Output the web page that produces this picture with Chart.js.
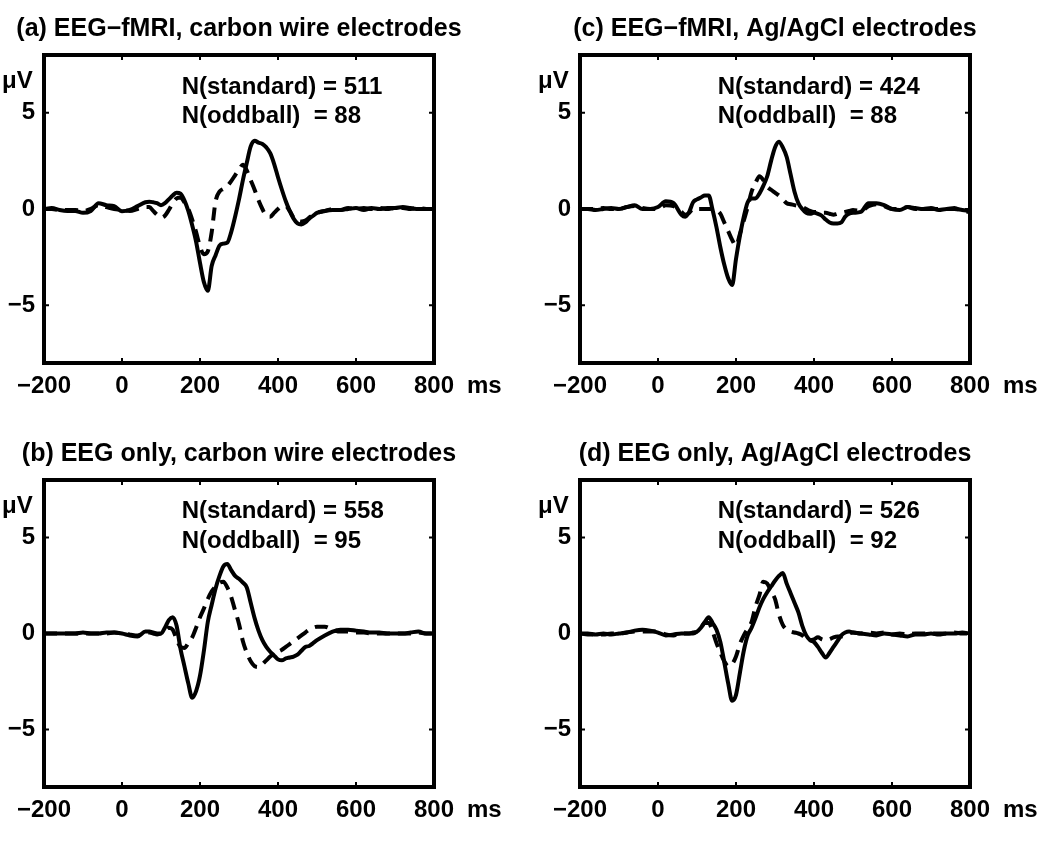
<!DOCTYPE html>
<html>
<head>
<meta charset="utf-8">
<script src="https://cdn.jsdelivr.net/npm/chart.js@4.4.1/dist/chart.umd.min.js"></script>
<style>
  body { margin: 0; background: #fff; }
  canvas { position: absolute; }
</style>
</head>
<body>
<canvas id="panelA" width="525" height="421" style="left:0;top:0"></canvas>
<canvas id="panelC" width="525" height="421" style="left:525px;top:0"></canvas>
<canvas id="panelB" width="525" height="421" style="left:0;top:421px"></canvas>
<canvas id="panelD" width="525" height="421" style="left:525px;top:421px"></canvas>
<script>
// time points (ms), finer around the ERP components
const times = [-200, -180, -160, -140, -120, -100, -80, -60, -40, -20, 0, 20, 40, 60,
    70, 80, 90, 100, 110, 120, 130, 140, 150, 160,
    170, 180, 190, 200, 210, 220, 230, 240, 250, 260,
    270, 280, 290, 300, 310, 320, 330, 340, 350, 360,
    370, 380, 390, 400, 410, 420, 430, 440, 450, 460,
    470, 480, 490, 500,
    520, 540, 560, 580, 600, 620, 640, 660, 680, 700, 720, 740, 760, 780, 800];

const xTicks = [-200, 0, 200, 400, 600, 800];
const yTicks = [-5, 0, 5];

// (a) EEG-fMRI, carbon wire
const aSolid = [0.0, 0.05, -0.05, -0.1, -0.1, -0.2, -0.1, 0.3, 0.2, 0.15, -0.12, -0.05, 0.15, 0.35,
    0.38, 0.35, 0.3, 0.2, 0.3, 0.5, 0.7, 0.85, 0.8, 0.45,
    -0.1, -0.85, -1.7, -2.8, -3.8, -4.25, -2.95, -2.4, -1.9, -1.8,
    -1.75, -1.2, -0.4, 0.5, 1.5, 2.4, 3.25, 3.55, 3.45, 3.38,
    3.2, 2.9, 2.35, 1.65, 1.0, 0.4, -0.1, -0.5, -0.75, -0.8,
    -0.7, -0.5, -0.35, -0.2,
    -0.1, -0.05, -0.05, 0.0, 0.05, -0.05, 0.05, 0.0, 0.05, 0.05, 0.1, 0.05, 0.0, 0.0, 0.0];
const aDashed = [0.0, 0.0, -0.05, -0.05, -0.05, -0.1, 0.0, 0.2, 0.1, 0.0, -0.05, -0.1, 0.0, 0.1,
    0.1, -0.1, -0.3, -0.45, -0.35, -0.05, 0.3, 0.55, 0.6, 0.35,
    0.0, -0.55, -1.2, -1.95, -2.35, -2.2, -1.2, 0.4, 0.9, 1.05,
    1.2, 1.45, 1.75, 2.05, 2.3, 2.0, 1.5, 1.0, 0.45, 0.0,
    -0.35, -0.4, -0.2, 0.0, 0.15, 0.15, -0.1, -0.45, -0.6, -0.65,
    -0.6, -0.45, -0.3, -0.2,
    -0.1, 0.0, -0.05, 0.05, 0.0, 0.05, 0.0, 0.05, 0.0, 0.05, 0.05, 0.0, 0.05, 0.0, 0.0];

// (c) EEG-fMRI, Ag/AgCl
const cSolid = [0.0, 0.0, -0.05, 0.0, 0.05, 0.0, 0.1, 0.2, 0.0, 0.0, 0.1, 0.4, 0.3, -0.3,
    -0.4, -0.15, 0.35, 0.5, 0.6, 0.7, 0.7, -0.05, -0.95, -2.0,
    -2.9, -3.6, -3.95, -2.6, -1.4, -0.4, 0.35, 0.55, 0.55, 0.8,
    1.2, 1.7, 2.5, 3.2, 3.5, 3.2, 2.7, 1.8, 0.9, 0.3,
    0.0, -0.2, -0.25, -0.2, -0.25, -0.35, -0.55, -0.7, -0.75, -0.75,
    -0.7, -0.4, -0.25, -0.2,
    -0.15, 0.3, 0.3, 0.2, 0.0, -0.05, 0.1, 0.05, 0.0, 0.05, -0.05, 0.0, 0.0, -0.05, -0.1];
const cDashed = [0.0, 0.0, 0.0, 0.05, 0.0, 0.0, 0.1, 0.15, 0.05, 0.0, 0.0, 0.2, 0.15, -0.15,
    -0.3, -0.2, 0.0, 0.0, 0.0, 0.0, 0.0, 0.0, -0.05, -0.25,
    -0.7, -1.15, -1.6, -1.9, -1.3, -0.6, 0.1, 0.9, 1.35, 1.7,
    1.5, 1.15, 1.0, 0.85, 0.7, 0.5, 0.3, 0.25, 0.2, 0.15,
    0.1, 0.0, -0.1, -0.15, -0.15, -0.2, -0.2, -0.25, -0.3, -0.25,
    -0.2, -0.15, -0.1, -0.05,
    -0.1, 0.15, 0.25, 0.15, 0.0, 0.0, 0.1, 0.0, 0.0, 0.0, 0.0, 0.0, 0.05, -0.1, -0.15];

// (b) EEG only, carbon wire
const bSolid = [0.0, 0.0, 0.0, 0.0, 0.0, 0.05, 0.0, 0.0, 0.05, 0.05, 0.0, -0.1, -0.15, 0.1,
    0.1, 0.05, 0.0, 0.0, 0.3, 0.7, 0.85, 0.4, -0.8, -1.7,
    -2.6, -3.35, -3.0, -2.2, -0.9, 0.6, 1.5, 2.35, 3.0, 3.5,
    3.62, 3.3, 3.0, 2.85, 2.65, 2.4, 1.6, 0.8, 0.15, -0.35,
    -0.7, -0.95, -1.15, -1.35, -1.4, -1.3, -1.25, -1.2, -1.1, -0.9,
    -0.7, -0.65, -0.5, -0.35,
    -0.1, 0.1, 0.2, 0.2, 0.15, 0.1, 0.05, 0.05, 0.0, 0.0, 0.0, 0.05, 0.1, 0.0, 0.0];
const bDashed = [0.0, 0.0, 0.0, 0.0, 0.0, 0.0, 0.0, 0.0, 0.0, 0.05, 0.0, -0.05, -0.1, 0.05,
    0.05, 0.0, -0.05, 0.0, 0.15, 0.3, 0.2, -0.3, -0.7, -0.75,
    -0.5, -0.2, 0.3, 0.85, 1.3, 1.8, 2.2, 2.45, 2.65, 2.7,
    2.4, 1.9, 1.2, 0.5, -0.4, -1.0, -1.45, -1.7, -1.75, -1.6,
    -1.4, -1.2, -1.05, -0.95, -0.85, -0.7, -0.55, -0.4, -0.25, -0.1,
    0.05, 0.2, 0.3, 0.35,
    0.35, 0.2, 0.1, 0.1, 0.05, 0.05, 0.0, 0.0, 0.0, 0.0, 0.0, 0.0, 0.05, 0.0, 0.0];

// (d) EEG only, Ag/AgCl
const dSolid = [0.0, 0.0, -0.05, 0.0, -0.05, 0.0, 0.05, 0.15, 0.2, 0.15, 0.05, -0.1, -0.05, 0.0,
    0.0, 0.0, 0.05, 0.1, 0.3, 0.6, 0.85, 0.55, 0.2, -0.45,
    -1.5, -2.6, -3.5, -3.2, -2.05, -0.9, -0.1, 0.3, 0.8, 1.35,
    1.8, 2.15, 2.45, 2.75, 3.0, 3.15, 2.6, 2.1, 1.6, 1.1,
    0.4, -0.1, -0.35, -0.45, -0.7, -1.0, -1.25, -1.0, -0.7, -0.4,
    -0.1, 0.05, 0.1, 0.05,
    0.0, -0.05, -0.1, 0.0, -0.05, -0.1, -0.15, -0.05, -0.05, 0.0, -0.05, 0.0, 0.0, 0.05, 0.0];
const dDashed = [0.0, -0.05, -0.05, -0.05, 0.0, 0.0, 0.05, 0.1, 0.1, 0.1, 0.1, -0.05, -0.1, 0.0,
    0.0, 0.0, 0.0, 0.1, 0.3, 0.55, 0.55, 0.1, -0.5, -1.0,
    -1.45, -1.7, -1.6, -1.2, -0.55, -0.1, 0.25, 0.6, 1.4, 2.0,
    2.7, 2.6, 2.2, 1.8, 1.0, 0.45, 0.2, 0.1, 0.05, 0.0,
    -0.1, -0.3, -0.35, -0.3, -0.2, -0.3, -0.35, -0.3, -0.2, -0.15,
    -0.15, -0.1, 0.0, 0.05,
    0.0, 0.05, 0.0, 0.05, -0.05, 0.0, -0.05, 0.0, 0.0, 0.0, 0.0, 0.0, 0.05, 0.0, 0.0];

const panelTitles = [
    '(a) EEG\u2212fMRI, carbon wire electrodes',
    '(c) EEG\u2212fMRI, Ag/AgCl electrodes',
    '(b) EEG only, carbon wire electrodes',
    '(d) EEG only, Ag/AgCl electrodes'
];
const nStandard = [511, 424, 558, 526];
const nOddball = [88, 88, 95, 92];

const FONT = '"Liberation Sans", Arial, Helvetica, sans-serif';
const minus = v => (v < 0 ? '\u2212' + Math.abs(v) : String(v));

// frame, inner ticks and text labels
const erpFrame = {
    id: 'erpFrame',
    afterDraw(chart, args, opts) {
        const { ctx, chartArea: a, scales: { x, y } } = chart;
        ctx.save();
        ctx.strokeStyle = '#000';
        ctx.lineWidth = 2;
        ctx.beginPath();
        xTicks.forEach(v => {
            const px = x.getPixelForValue(v);
            ctx.moveTo(px, a.bottom); ctx.lineTo(px, a.bottom - 5);
            ctx.moveTo(px, a.top); ctx.lineTo(px, a.top + 5);
        });
        yTicks.forEach(v => {
            const py = y.getPixelForValue(v);
            ctx.moveTo(a.left, py); ctx.lineTo(a.left + 5, py);
            ctx.moveTo(a.right, py); ctx.lineTo(a.right - 5, py);
        });
        ctx.stroke();
        ctx.lineWidth = 4;
        ctx.strokeRect(a.left, a.top, a.right - a.left, a.bottom - a.top);

        ctx.fillStyle = '#000';
        ctx.textBaseline = 'alphabetic';
        ctx.font = 'bold 25px ' + FONT;
        ctx.textAlign = 'center';
        ctx.fillText(opts.title, (a.left + a.right) / 2, a.top - 19);

        ctx.font = 'bold 24px ' + FONT;
        ctx.textAlign = 'left';
        ctx.fillText('\u03bcV', a.left - 42, a.top + 33);
        const tx = x.getPixelForValue(153);
        ctx.fillText(opts.lines[0], tx, y.getPixelForValue(6.0));
        ctx.fillText(opts.lines[1], tx, y.getPixelForValue(4.45));
        ctx.textBaseline = 'middle';
        ctx.fillText('ms', a.right + 33, a.bottom + 23);
        ctx.restore();
    }
};

function makePanel(id, idx, solid, dashed, box) {
    new Chart(document.getElementById(id), {
        type: 'line',
        data: {
            datasets: [
                {
                    label: 'solid',
                    data: times.map((t, i) => ({ x: t, y: solid[i] })),
                    borderColor: '#000',
                    borderWidth: 4,
                    borderJoinStyle: 'round',
                    borderCapStyle: 'round',
                    cubicInterpolationMode: 'monotone',
                    pointRadius: 0
                },
                {
                    label: 'dashed',
                    data: times.map((t, i) => ({ x: t, y: dashed[i] })),
                    borderColor: '#000',
                    borderWidth: 4,
                    borderDash: [13, 8],
                    borderCapStyle: 'butt',
                    cubicInterpolationMode: 'monotone',
                    pointRadius: 0
                }
            ]
        },
        options: {
            responsive: false,
            animation: false,
            devicePixelRatio: 1,
            layout: { padding: { left: 0, top: box.top, right: box.right, bottom: 0 } },
            plugins: {
                legend: { display: false },
                title: { display: false },
                tooltip: { enabled: false },
                erpFrame: {
                    title: panelTitles[idx],
                    lines: ['N(standard) = ' + nStandard[idx], 'N(oddball)  = ' + nOddball[idx]]
                }
            },
            scales: {
                x: {
                    type: 'linear',
                    min: -200,
                    max: 800,
                    grid: { display: false, drawTicks: false },
                    border: { display: false },
                    afterBuildTicks: s => { s.ticks = xTicks.map(v => ({ value: v })); },
                    afterFit: s => { s.height = box.xHeight; },
                    ticks: {
                        autoSkip: false,
                        maxRotation: 0,
                        padding: 9,
                        color: '#000',
                        font: { family: FONT, size: 24, weight: 'bold' },
                        callback: v => minus(v)
                    }
                },
                y: {
                    min: -8,
                    max: 8,
                    grid: { display: false, drawTicks: false },
                    border: { display: false },
                    afterBuildTicks: s => { s.ticks = yTicks.map(v => ({ value: v })); },
                    afterFit: s => { s.width = box.yWidth; },
                    ticks: {
                        padding: 9,
                        color: '#000',
                        font: { family: FONT, size: 24, weight: 'bold' },
                        callback: v => minus(v)
                    }
                }
            }
        },
        plugins: [erpFrame]
    });
}

makePanel('panelA', 0, aSolid, aDashed, { top: 55, right: 91, yWidth: 44, xHeight: 58 });
makePanel('panelC', 1, cSolid, cDashed, { top: 55, right: 80, yWidth: 55, xHeight: 58 });
makePanel('panelB', 2, bSolid, bDashed, { top: 59, right: 91, yWidth: 44, xHeight: 55 });
makePanel('panelD', 3, dSolid, dDashed, { top: 59, right: 80, yWidth: 55, xHeight: 55 });
</script>
</body>
</html>
